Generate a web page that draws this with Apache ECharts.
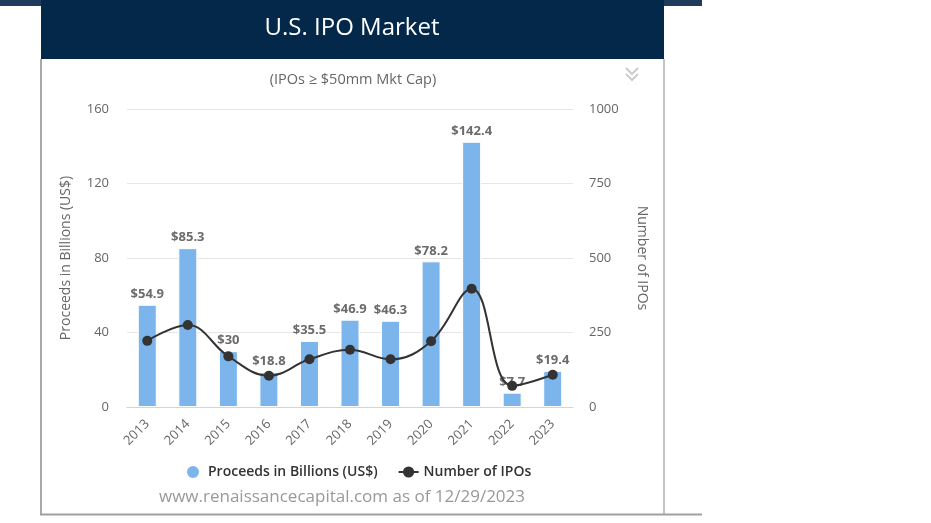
<!DOCTYPE html>
<html>
<head>
<meta charset="utf-8">
<script src="https://cdn.jsdelivr.net/npm/echarts@6/dist/echarts.min.js"></script>
<style>
html,body{margin:0;padding:0;background:#fff;}
#chart{width:931px;height:523px;}
</style>
</head>
<body>
<div id="chart"></div>
<script>
const years = ['2013','2014','2015','2016','2017','2018','2019','2020','2021','2022','2023'];
const proceeds = [54.9, 85.3, 30, 18.8, 35.5, 46.9, 46.3, 78.2, 142.4, 7.7, 19.4];
const ipoCounts = [222, 275, 170, 105, 160, 192, 160, 221, 397, 71, 108];
const titleText = 'U.S. IPO Market';
const subtitleText = '(IPOs \u2265 $50mm Mkt Cap)';
const creditText = 'www.renaissancecapital.com as of 12/29/2023';
const leftAxisName = 'Proceeds in Billions (US$)';
const rightAxisName = 'Number of IPOs';

const FONT = '"Open Sans", "Noto Sans", sans-serif';
const chart = echarts.init(document.getElementById('chart'));
chart.setOption({
  animation: false,
  backgroundColor: '#ffffff',
  textStyle: { fontFamily: FONT },
  graphic: [
    { type: 'rect', z: 1, shape: { x: 0, y: 0, width: 702, height: 6 }, style: { fill: '#1f3b5c' } },
    { type: 'rect', z: 2, shape: { x: 41, y: 0, width: 623, height: 59 }, style: { fill: '#03284a' } },
    { type: 'text', z: 3, x: 352, y: 28, style: { text: titleText, fill: '#ffffff', font: '500 24px ' + FONT, textAlign: 'center', textVerticalAlign: 'middle' } },
    { type: 'line', z: 2, shape: { x1: 41, y1: 59, x2: 41, y2: 515 }, style: { stroke: '#a8a8a8', lineWidth: 2 } },
    { type: 'line', z: 2, shape: { x1: 664, y1: 59, x2: 664, y2: 515 }, style: { stroke: '#8a8a8a', lineWidth: 1 } },
    { type: 'line', z: 2, shape: { x1: 40, y1: 514.5, x2: 702, y2: 514.5 }, style: { stroke: '#a0a0a0', lineWidth: 2 } },
    { type: 'polyline', z: 2, shape: { points: [[626, 68], [632, 74], [638, 68]] }, style: { stroke: '#cccccc', lineWidth: 2, fill: null } },
    { type: 'polyline', z: 2, shape: { points: [[626, 74], [632, 80], [638, 74]] }, style: { stroke: '#cccccc', lineWidth: 2, fill: null } },
    { type: 'text', z: 3, x: 353, y: 80, style: { text: subtitleText, fill: '#666666', font: '14.5px ' + FONT, textAlign: 'center', textVerticalAlign: 'middle' } },
    { type: 'text', z: 3, x: 342, y: 497, style: { text: creditText, fill: '#999999', font: '17px ' + FONT, textAlign: 'center', textVerticalAlign: 'middle' } }
  ],
  legend: {
    bottom: 38,
    left: 180,
    itemGap: 20,
    itemWidth: 20,
    itemHeight: 14,
    textStyle: { fontSize: 14, fontWeight: 600, color: '#333333', fontFamily: FONT },
    data: [
      { name: leftAxisName, icon: 'circle' },
      { name: rightAxisName }
    ]
  },
  grid: { left: 127, right: 358, top: 109, bottom: 116, containLabel: false },
  xAxis: {
    type: 'category',
    data: years,
    axisLine: { lineStyle: { color: '#ccd6eb' } },
    axisTick: { show: false },
    axisLabel: { rotate: 45, color: '#666666', fontSize: 13, margin: 15, fontFamily: FONT }
  },
  yAxis: [
    {
      type: 'value', min: 0, max: 160, interval: 40,
      name: leftAxisName, nameLocation: 'middle', nameRotate: 90, nameGap: 54,
      nameTextStyle: { color: '#666666', fontSize: 14, fontFamily: FONT },
      axisLabel: { color: '#666666', fontSize: 13, margin: 18, fontFamily: FONT },
      splitLine: { lineStyle: { color: '#e6e6e6' } },
      axisLine: { show: false }, axisTick: { show: false }
    },
    {
      type: 'value', min: 0, max: 1000, interval: 250,
      name: rightAxisName, nameLocation: 'middle', nameRotate: -90, nameGap: 62,
      nameTextStyle: { color: '#666666', fontSize: 14, fontFamily: FONT },
      axisLabel: { color: '#666666', fontSize: 13, margin: 16, fontFamily: FONT, formatter: v => String(v) },
      splitLine: { show: false },
      axisLine: { show: false }, axisTick: { show: false }
    }
  ],
  series: [
    {
      name: leftAxisName,
      type: 'bar',
      yAxisIndex: 0,
      data: proceeds,
      barWidth: 19,
      itemStyle: { color: '#7cb5ec', borderColor: '#ffffff', borderWidth: 1 },
      label: {
        show: true, position: 'top', distance: 4,
        formatter: p => '$' + p.value,
        color: '#6b6b6b', fontSize: 13, fontWeight: 'bold', fontFamily: FONT,
        textBorderColor: '#ffffff', textBorderWidth: 1
      },
      z: 2
    },
    {
      name: rightAxisName,
      type: 'line',
      yAxisIndex: 1,
      data: ipoCounts,
      smooth: 0.4,
      symbol: 'circle',
      symbolSize: 10,
      lineStyle: { color: '#333333', width: 2 },
      itemStyle: { color: '#333333' },
      z: 3
    }
  ]
});
</script>
</body>
</html>
